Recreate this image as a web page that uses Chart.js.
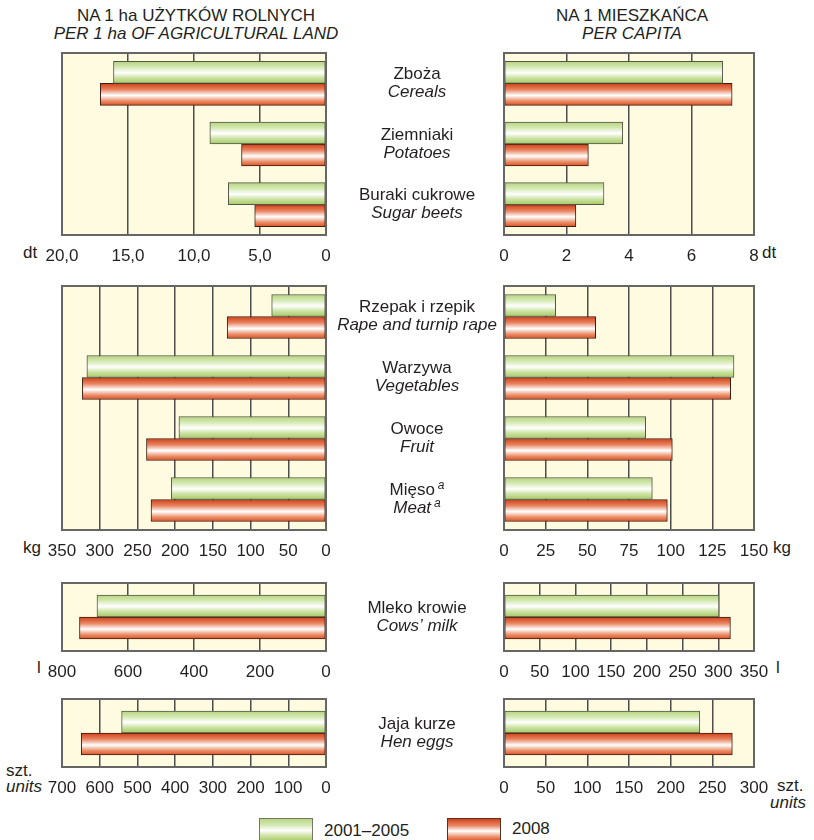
<!DOCTYPE html>
<html><head><meta charset="utf-8">
<script src="https://cdn.jsdelivr.net/npm/chart.js@4.4.1/dist/chart.umd.min.js"></script>
<style>
body{margin:0;background:#fff;width:814px;height:840px;overflow:hidden;position:relative;font-family:"Liberation Sans",Arial,sans-serif;color:#231f20}
canvas{position:absolute}
.t{position:absolute;font-size:17px;line-height:18px;white-space:nowrap}
.i{font-style:italic}
.box{position:absolute;width:52px;height:22px;border:1px solid #6a6a5a}
</style></head><body>
<div class="t" style="left:46px;width:300px;top:7px;text-align:center">NA 1 ha UŻYTKÓW ROLNYCH</div>
<div class="t i" style="left:46px;width:300px;top:25px;text-align:center">PER 1 ha OF AGRICULTURAL LAND</div>
<div class="t" style="left:482px;width:300px;top:7px;text-align:center">NA 1 MIESZKAŃCA</div>
<div class="t i" style="left:482px;width:300px;top:25px;text-align:center">PER CAPITA</div>

<div class="t" style="left:23px;top:244px">dt</div>
<div class="t" style="left:762px;top:244px">dt</div>
<div class="t" style="left:23px;top:539px">kg</div>
<div class="t" style="left:773px;top:539px">kg</div>
<div class="t" style="left:37px;top:659px">l</div>
<div class="t" style="left:776px;top:659px">l</div>
<div class="t" style="left:6px;top:762px">szt.</div>
<div class="t i" style="left:6px;top:778px">units</div>
<div class="t" style="left:777px;top:777px">szt.</div>
<div class="t i" style="left:770px;top:794px">units</div>

<div class="box" style="left:259px;top:818px;border-color:#777766;background:linear-gradient(to bottom,#b7d582 0%,#d6e9b6 28%,#ffffff 52%,#cfe4a6 75%,#a8ca6a 100%)"></div>
<div class="t" style="left:324px;top:822px">2001–2005</div>
<div class="box" style="left:447px;top:818px;border-color:#5a3020;background:linear-gradient(to bottom,#d2431a 0%,#e98866 30%,#ffffff 55%,#ec946f 80%,#dc5325 100%)"></div>
<div class="t" style="left:512px;top:820px">2008</div>

<script>
// ---------- DATA ----------
const series = ["2001–2005", "2008"];

const cropsPL = ["Zboża", "Ziemniaki", "Buraki cukrowe"];
const cropsEN = ["Cereals", "Potatoes", "Sugar beets"];
const cropsMarks = ["", "", ""];
const cropsPerHa0105 = [16.1, 8.8, 7.4];
const cropsPerHa2008 = [17.1, 6.4, 5.4];
const cropsPerCap0105 = [7.0, 3.8, 3.2];
const cropsPerCap2008 = [7.3, 2.7, 2.3];
const cropsPerHaTicks = ["0", "5,0", "10,0", "15,0", "20,0"];
const cropsPerCapTicks = ["0", "2", "4", "6", "8"];

const kgPL = ["Rzepak i rzepik", "Warzywa", "Owoce", "Mięso"];
const kgEN = ["Rape and turnip rape", "Vegetables", "Fruit", "Meat"];
const kgMarks = ["", "", "", "a"];
const kgPerHa0105 = [72, 317, 195, 205];
const kgPerHa2008 = [131, 323, 238, 232];
const kgPerCap0105 = [31, 138, 85, 89];
const kgPerCap2008 = [55, 136, 101, 98];
const kgPerHaTicks = ["0", "50", "100", "150", "200", "250", "300", "350"];
const kgPerCapTicks = ["0", "25", "50", "75", "100", "125", "150"];

const milkPL = ["Mleko krowie"];
const milkEN = ["Cows’ milk"];
const milkMarks = [""];
const milkPerHa0105 = [694];
const milkPerHa2008 = [747];
const milkPerCap0105 = [301];
const milkPerCap2008 = [317];
const milkPerHaTicks = ["0", "200", "400", "600", "800"];
const milkPerCapTicks = ["0", "50", "100", "150", "200", "250", "300", "350"];

const eggsPL = ["Jaja kurze"];
const eggsEN = ["Hen eggs"];
const eggsMarks = [""];
const eggsPerHa0105 = [542];
const eggsPerHa2008 = [649];
const eggsPerCap0105 = [235];
const eggsPerCap2008 = [274];
const eggsPerHaTicks = ["0", "100", "200", "300", "400", "500", "600", "700"];
const eggsPerCapTicks = ["0", "50", "100", "150", "200", "250", "300"];

// ---------- STYLE ----------
const FONT = '"Liberation Sans", Arial, sans-serif';
const TXT = '#231f20';
const BG = '#fffbe0';
const BAR = 22;
const GREEN_STOPS = [[0,'#b5d47e'],[0.25,'#d3e8b0'],[0.52,'#ffffff'],[0.75,'#cce3a2'],[1,'#a6c966']];
const RED_STOPS = [[0,'#cf4016'],[0.28,'#e8835f'],[0.55,'#ffffff'],[0.8,'#eb8f69'],[1,'#da5022']];

function grad(stops, fallback) {
  return (c) => {
    const ch = c.chart, ys = ch.scales && ch.scales.y;
    if (!ys || c.dataIndex == null) return fallback;
    const mid = ys.getPixelForValue(c.dataIndex);
    if (!isFinite(mid)) return fallback;
    const top = mid - BAR + c.datasetIndex * BAR;
    const g = ch.ctx.createLinearGradient(0, top, 0, top + BAR);
    stops.forEach(s => g.addColorStop(s[0], s[1]));
    return g;
  };
}

const frame = {
  id: 'frame',
  beforeDraw(chart) {
    const a = chart.chartArea, ctx = chart.ctx;
    ctx.save(); ctx.fillStyle = BG;
    ctx.fillRect(a.left, a.top, a.right - a.left, a.bottom - a.top);
    ctx.restore();
  },
  afterDatasetsDraw(chart) {
    const a = chart.chartArea, ctx = chart.ctx;
    ctx.save(); ctx.strokeStyle = '#666'; ctx.lineWidth = 2;
    ctx.strokeRect(a.left, a.top, a.right - a.left, a.bottom - a.top);
    ctx.restore();
  }
};

function drawCentered(ctx, text, mark, cx, y, style) {
  ctx.font = style + ' 17px ' + FONT;
  const w = ctx.measureText(text).width;
  let sw = 0;
  if (mark) { ctx.font = 'italic 12px ' + FONT; sw = ctx.measureText(mark).width + 3; }
  const x0 = cx - (w + sw) / 2;
  ctx.font = style + ' 17px ' + FONT;
  ctx.fillText(text, x0, y);
  if (mark) { ctx.font = 'italic 12px ' + FONT; ctx.fillText(mark, x0 + w + 3, y - 5); }
}

const midLabels = {
  id: 'midLabels',
  afterDraw(chart, args, o) {
    if (!o || !o.pl) return;
    const ctx = chart.ctx, ys = chart.scales.y;
    ctx.save(); ctx.fillStyle = TXT; ctx.textBaseline = 'middle'; ctx.textAlign = 'left';
    o.pl.forEach((t, i) => {
      const c = ys.getPixelForValue(i);
      drawCentered(ctx, t, o.marks[i], o.x, c - 9, 'normal');
      drawCentered(ctx, o.en[i], o.marks[i], o.x, c + 9, 'italic');
    });
    ctx.restore();
  }
};

function makeChart(p) {
  const cv = document.createElement('canvas');
  const h = 2 + p.plotH + 34;
  cv.width = p.width; cv.height = h;
  cv.style.left = p.left + 'px'; cv.style.top = (p.plotTop - 2) + 'px';
  document.body.appendChild(cv);
  const plugins = [frame];
  const pluginOpts = { legend: { display: false }, tooltip: { enabled: false } };
  if (p.pl) { plugins.push(midLabels); pluginOpts.midLabels = { pl: p.pl, en: p.en, marks: p.marks, x: 417 - p.left }; }
  return new Chart(cv, {
    type: 'bar',
    data: {
      labels: p.pl || p.cats,
      datasets: [
        { label: series[0], data: p.d1, backgroundColor: grad(GREEN_STOPS, '#c5df95'), borderColor: '#55554a', borderWidth: 1, borderSkipped: false, barThickness: BAR },
        { label: series[1], data: p.d2, backgroundColor: grad(RED_STOPS, '#e06030'), borderColor: '#3f1c10', borderWidth: 1, borderSkipped: false, barThickness: BAR }
      ]
    },
    options: {
      indexAxis: 'y', responsive: false, animation: false, events: [],
      layout: { padding: { left: p.padL, right: p.padR, top: 2, bottom: 0 } },
      plugins: pluginOpts,
      scales: {
        x: {
          type: 'linear', min: 0, max: p.max, reverse: !!p.reverse,
          afterFit: (s) => { s.height = 34; },
          ticks: { stepSize: p.step, autoSkip: false, maxRotation: 0, padding: 11, color: TXT,
                   font: { family: FONT, size: 17 }, callback: (v) => p.ticks[Math.round(v / p.step)] },
          grid: { color: '#4d4d4d', lineWidth: 1.5, drawTicks: false },
          border: { display: false }
        },
        y: { display: false }
      }
    },
    plugins
  });
}

const L = { left: 0, width: 346, padL: 62, padR: 20, reverse: true };
const R = { left: 330, width: 484, padL: 174, padR: 60 };

makeChart(Object.assign({}, L, { plotTop: 53, plotH: 182, cats: cropsPL, d1: cropsPerHa0105, d2: cropsPerHa2008, max: 20, step: 5, ticks: cropsPerHaTicks }));
makeChart(Object.assign({}, R, { plotTop: 53, plotH: 182, pl: cropsPL, en: cropsEN, marks: cropsMarks, d1: cropsPerCap0105, d2: cropsPerCap2008, max: 8, step: 2, ticks: cropsPerCapTicks }));

makeChart(Object.assign({}, L, { plotTop: 286, plotH: 244, cats: kgPL, d1: kgPerHa0105, d2: kgPerHa2008, max: 350, step: 50, ticks: kgPerHaTicks }));
makeChart(Object.assign({}, R, { plotTop: 286, plotH: 244, pl: kgPL, en: kgEN, marks: kgMarks, d1: kgPerCap0105, d2: kgPerCap2008, max: 150, step: 25, ticks: kgPerCapTicks }));

makeChart(Object.assign({}, L, { plotTop: 583, plotH: 68, cats: milkPL, d1: milkPerHa0105, d2: milkPerHa2008, max: 800, step: 200, ticks: milkPerHaTicks }));
makeChart(Object.assign({}, R, { plotTop: 583, plotH: 68, pl: milkPL, en: milkEN, marks: milkMarks, d1: milkPerCap0105, d2: milkPerCap2008, max: 350, step: 50, ticks: milkPerCapTicks }));

makeChart(Object.assign({}, L, { plotTop: 699, plotH: 68, cats: eggsPL, d1: eggsPerHa0105, d2: eggsPerHa2008, max: 700, step: 100, ticks: eggsPerHaTicks }));
makeChart(Object.assign({}, R, { plotTop: 699, plotH: 68, pl: eggsPL, en: eggsEN, marks: eggsMarks, d1: eggsPerCap0105, d2: eggsPerCap2008, max: 300, step: 50, ticks: eggsPerCapTicks }));
</script>
</body></html>
